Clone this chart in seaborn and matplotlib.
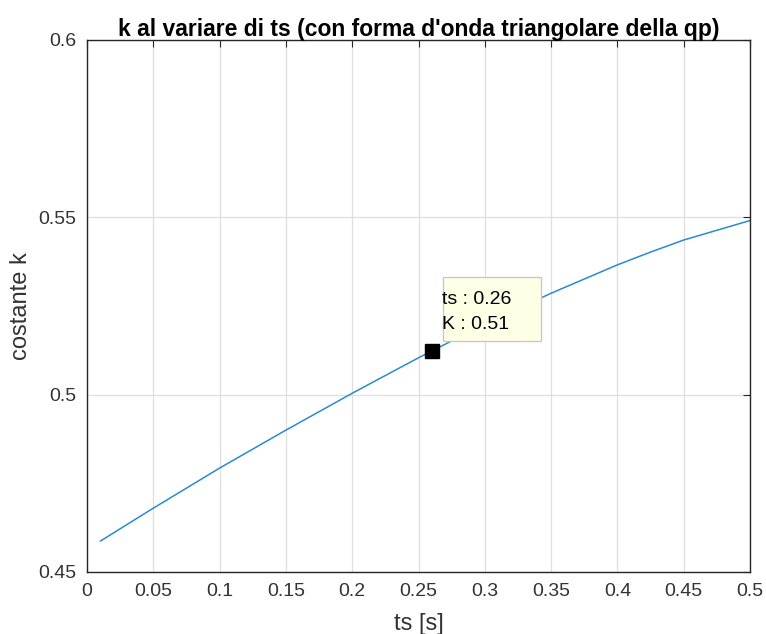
import matplotlib
matplotlib.use("Agg")
import matplotlib.pyplot as plt
import matplotlib.transforms as mtransforms
from matplotlib.patches import Rectangle
import seaborn as sns
import pandas as pd

# Data
ts = [0.01, 0.05, 0.10, 0.15, 0.20, 0.25, 0.30, 0.35, 0.40, 0.425, 0.45, 0.50]
k = [0.4587, 0.4680, 0.4793, 0.4900, 0.5004, 0.5104, 0.5199, 0.5286, 0.5366, 0.5402, 0.5436, 0.5491]
tip_ts = 0.26
tip_k = 0.5123
xticks = [0, 0.05, 0.1, 0.15, 0.2, 0.25, 0.3, 0.35, 0.4, 0.45, 0.5]
xtick_labels = ["0", "0.05", "0.1", "0.15", "0.2", "0.25", "0.3", "0.35", "0.4", "0.45", "0.5"]
yticks = [0.45, 0.5, 0.55, 0.6]
ytick_labels = ["0.45", "0.5", "0.55", "0.6"]
title = "k al variare di ts (con forma d'onda triangolare della qp)"

sns.set_theme(style="white")
plt.rcParams['font.family'] = ['Liberation Sans', 'DejaVu Sans']

df = pd.DataFrame({"ts": ts, "k": k})

fig = plt.figure(figsize=(7.66, 6.34), dpi=100)
ax = fig.add_axes([87/766, 1 - 572/634, (750 - 87)/766, (572 - 40)/634])

dark = "#262626"
ax.grid(True, color="#dfdfdf", linewidth=0.9)
ax.set_axisbelow(True)

sns.lineplot(data=df, x="ts", y="k", ax=ax, color="#2a8ad0", linewidth=1.1)
ax.plot([tip_ts], [tip_k], marker="s", markersize=9.5, color="black", linestyle="none", zorder=5)

ax.set_xlim(0, 0.5)
ax.set_ylim(0.45, 0.6)
ax.set_xticks(xticks)
ax.set_xticklabels(xtick_labels)
ax.set_yticks(yticks)
ax.set_yticklabels(ytick_labels)

ax.tick_params(axis="both", which="both", direction="in", length=5, width=0.8,
               colors=dark, labelsize=14, top=True, right=True, pad=8)
ax.tick_params(axis="both", labelcolor="#333333")
for s in ax.spines.values():
    s.set_visible(True)
    s.set_color(dark)
    s.set_linewidth(1.0)

ax.set_xlabel("ts [s]", fontsize=17, color="#333333", labelpad=9)
ax.set_ylabel("costante k", fontsize=17, color="#333333", labelpad=4)
ax.set_title(title, fontsize=16.5, fontweight="bold", color="black", pad=3)

# data tip: box and text positioned in pixels relative to the marked point
px, py = ax.transData.transform((tip_ts, tip_k))
off = mtransforms.Affine2D().translate(px, py)
ax.add_patch(Rectangle((11, 10), 98, 64, transform=off, facecolor="#ffffe6",
                       edgecolor="#c8c8c8", linewidth=1.0, zorder=6, clip_on=False))
ax.text(10, 52, "ts : %.2f" % tip_ts, transform=off, ha="left", va="center",
        fontsize=14, color="black", zorder=7)
ax.text(10, 27, "K : %.2f" % tip_k, transform=off, ha="left", va="center",
        fontsize=14, color="black", zorder=7)

fig.savefig("out.png", dpi=100)
